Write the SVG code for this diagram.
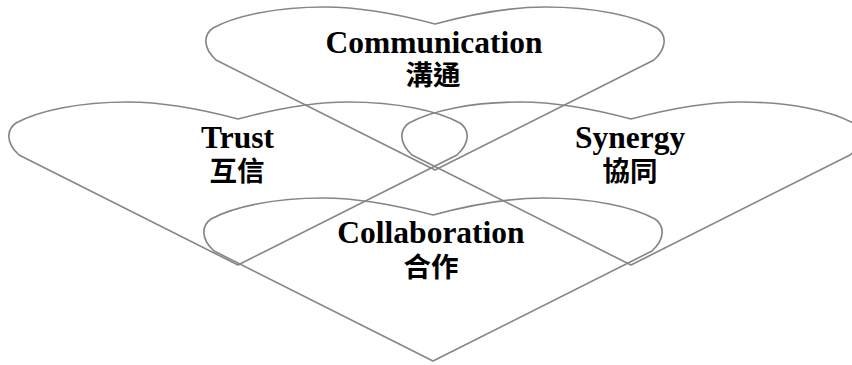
<svg xmlns="http://www.w3.org/2000/svg" xmlns:xlink="http://www.w3.org/1999/xlink" width="852" height="365" viewBox="0 0 852 365">
  <style>
    .heart { fill: none; stroke: #858585; stroke-width: 1.6; stroke-linejoin: round; }
    .en { font-family: "Liberation Serif", "Times New Roman", serif; font-weight: bold; font-size: 31.5px; fill: #000; text-anchor: middle; }
    .zh { font-family: "Noto Sans CJK TC", "Noto Sans CJK SC", sans-serif; font-weight: bold; font-size: 27.5px; fill: #000; text-anchor: middle; }
  </style>
  <defs>
    <path id="heart" d="M 0 0 C -30 -8 -70 -17 -110 -17 C -160 -17 -200 -8 -222 4 C -232 11 -232 24 -219 36 L 0 146 L 219 36 C 232 24 232 11 222 4 C 200 -8 160 -17 110 -17 C 70 -17 30 -8 0 0 Z"/>
  </defs>
  <rect width="852" height="365" fill="#fff"/>
  <g id="communication">
    <use xlink:href="#heart" href="#heart" class="heart" x="435" y="24"/>
    <text class="en" x="434" y="53">Communication</text>
    <text class="zh" x="433" y="85">溝通</text>
  </g>
  <g id="trust">
    <use xlink:href="#heart" href="#heart" class="heart" x="238" y="119"/>
    <text class="en" x="237.5" y="148">Trust</text>
    <text class="zh" x="237" y="181">互信</text>
  </g>
  <g id="synergy">
    <use xlink:href="#heart" href="#heart" class="heart" x="631" y="119"/>
    <text class="en" x="630" y="148">Synergy</text>
    <text class="zh" x="630" y="181">協同</text>
  </g>
  <g id="collaboration">
    <use xlink:href="#heart" href="#heart" class="heart" x="433" y="215"/>
    <text class="en" x="431" y="243">Collaboration</text>
    <text class="zh" x="431" y="277">合作</text>
  </g>
  <g id="connectors"/>
</svg>
